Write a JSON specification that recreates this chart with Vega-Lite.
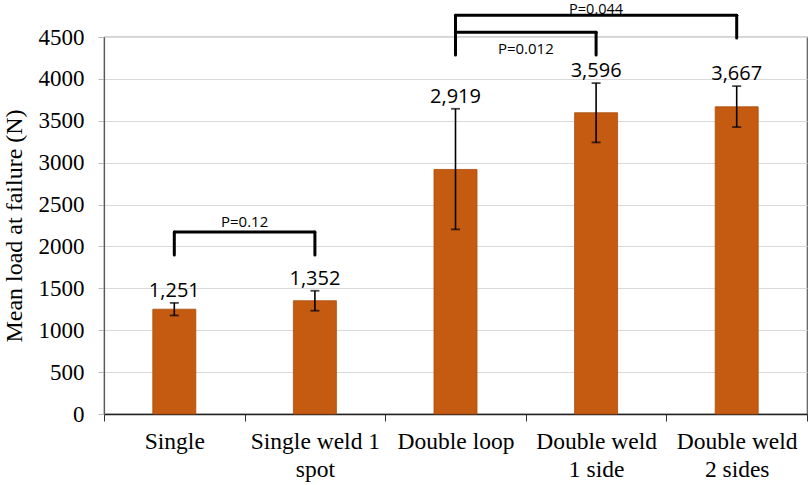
{
  "$schema": "https://vega.github.io/schema/vega-lite/v6.json",
  "autosize": "none",
  "width": 703,
  "height": 377,
  "padding": {"left": 104, "top": 37, "right": 3, "bottom": 71},
  "background": "white",
  "config": {
    "view": {"stroke": "#595959", "strokeWidth": 1.2},
    "axis": {"labelColor": "black", "titleColor": "black", "labelFont": "Liberation Serif", "titleFont": "Liberation Serif"}
  },
  "datasets": {
    "bars": [
      {"cat": "Single", "mean": 1251, "lo": 1176, "hi": 1326, "lab": "1,251"},
      {"cat": "Single weld 1 spot", "mean": 1352, "lo": 1233, "hi": 1471, "lab": "1,352"},
      {"cat": "Double loop", "mean": 2919, "lo": 2204, "hi": 3643, "lab": "2,919"},
      {"cat": "Double weld 1 side", "mean": 3596, "lo": 3242, "hi": 3950, "lab": "3,596"},
      {"cat": "Double weld 2 sides", "mean": 3667, "lo": 3425, "hi": 3914, "lab": "3,667"}
    ],
    "brackets": [
      {"a": "Single", "b": "Single", "y1": 1897, "y2": 2172},
      {"a": "Single", "b": "Single weld 1 spot", "y1": 2172, "y2": 2172},
      {"a": "Single weld 1 spot", "b": "Single weld 1 spot", "y1": 2172, "y2": 1897},
      {"a": "Double loop", "b": "Double loop", "y1": 4284, "y2": 4761},
      {"a": "Double loop", "b": "Double weld 1 side", "y1": 4558, "y2": 4558},
      {"a": "Double weld 1 side", "b": "Double weld 1 side", "y1": 4558, "y2": 4284},
      {"a": "Double loop", "b": "Double weld 2 sides", "y1": 4761, "y2": 4761},
      {"a": "Double weld 2 sides", "b": "Double weld 2 sides", "y1": 4761, "y2": 4487}
    ],
    "pEdge": [
      {"cat": "Single", "y": 2291, "p": "P=0.12"},
      {"cat": "Double loop", "y": 4356, "p": "P=0.012"}
    ],
    "pMid": [
      {"cat": "Double weld 1 side", "y": 4778, "p": "P=0.044"}
    ]
  },
  "encoding": {
    "x": {
      "field": "cat",
      "type": "nominal",
      "sort": null,
      "scale": {"domain": ["Single", "Single weld 1 spot", "Double loop", "Double weld 1 side", "Double weld 2 sides"], "paddingInner": 0, "paddingOuter": 0},
      "title": null,
      "axis": {
        "labelAngle": 0,
        "labelFont": "Liberation Serif",
        "labelFontSize": 23.5,
        "labelLineHeight": 28,
        "labelPadding": 8,
        "tickBand": "extent",
        "tickSize": 7,
        "tickColor": "#333",
        "domainColor": "#222",
        "domainWidth": 1.3,
        "labelExpr": "{'Single': 'Single', 'Single weld 1 spot': ['Single weld 1', 'spot'], 'Double loop': 'Double loop', 'Double weld 1 side': ['Double weld', '1 side'], 'Double weld 2 sides': ['Double weld', '2 sides']}[datum.value]"
      }
    }
  },
  "layer": [
    {
      "data": {"name": "bars"},
      "mark": {"type": "bar", "width": 43, "color": "#C55A11", "stroke": "#A84C0E", "strokeWidth": 0.8},
      "encoding": {
        "y": {
          "field": "mean",
          "type": "quantitative",
          "scale": {"domain": [0, 4500], "nice": false},
          "title": "Mean load at failure (N)",
          "axis": {
            "values": [0, 500, 1000, 1500, 2000, 2500, 3000, 3500, 4000, 4500],
            "format": "d",
            "labelFont": "Liberation Serif",
            "labelFontSize": 23,
            "labelPadding": 14,
            "titleFont": "Liberation Serif",
            "titleFontSize": 24,
            "titleFontWeight": "normal",
            "titlePadding": 12,
            "tickColor": "#bbb",
            "tickSize": 6,
            "gridColor": "#d9d9d9",
            "gridWidth": 1.2,
            "domainColor": "#595959",
            "domainWidth": 1.2
          }
        }
      }
    },
    {
      "data": {"name": "bars"},
      "mark": {"type": "rule", "color": "black", "strokeWidth": 1.6},
      "encoding": {"y": {"field": "lo", "type": "quantitative"}, "y2": {"field": "hi"}}
    },
    {
      "data": {"name": "bars"},
      "mark": {"type": "tick", "color": "black", "size": 9, "thickness": 1.8, "orient": "horizontal"},
      "encoding": {"y": {"field": "lo", "type": "quantitative"}}
    },
    {
      "data": {"name": "bars"},
      "mark": {"type": "tick", "color": "black", "size": 9, "thickness": 1.8, "orient": "horizontal"},
      "encoding": {"y": {"field": "hi", "type": "quantitative"}}
    },
    {
      "data": {"name": "bars"},
      "mark": {"type": "text", "font": "Open Sans", "fontSize": 20, "color": "black", "baseline": "bottom", "dy": -2, "clip": false},
      "encoding": {"y": {"field": "hi", "type": "quantitative"}, "text": {"field": "lab"}}
    },
    {
      "data": {"name": "brackets"},
      "mark": {"type": "rule", "color": "black", "strokeWidth": 3, "strokeCap": "round", "clip": false},
      "encoding": {
        "x": {"field": "a", "type": "nominal"},
        "x2": {"field": "b"},
        "y": {"field": "y1", "type": "quantitative"},
        "y2": {"field": "y2"}
      }
    },
    {
      "data": {"name": "pEdge"},
      "mark": {"type": "text", "font": "Open Sans", "fontSize": 15, "color": "black", "baseline": "middle", "clip": false},
      "encoding": {
        "x": {"field": "cat", "type": "nominal", "bandPosition": 1},
        "y": {"field": "y", "type": "quantitative"},
        "text": {"field": "p"}
      }
    },
    {
      "data": {"name": "pMid"},
      "mark": {"type": "text", "font": "Open Sans", "fontSize": 14.5, "color": "black", "baseline": "alphabetic", "clip": false},
      "encoding": {
        "y": {"field": "y", "type": "quantitative"},
        "text": {"field": "p"}
      }
    }
  ]
}
